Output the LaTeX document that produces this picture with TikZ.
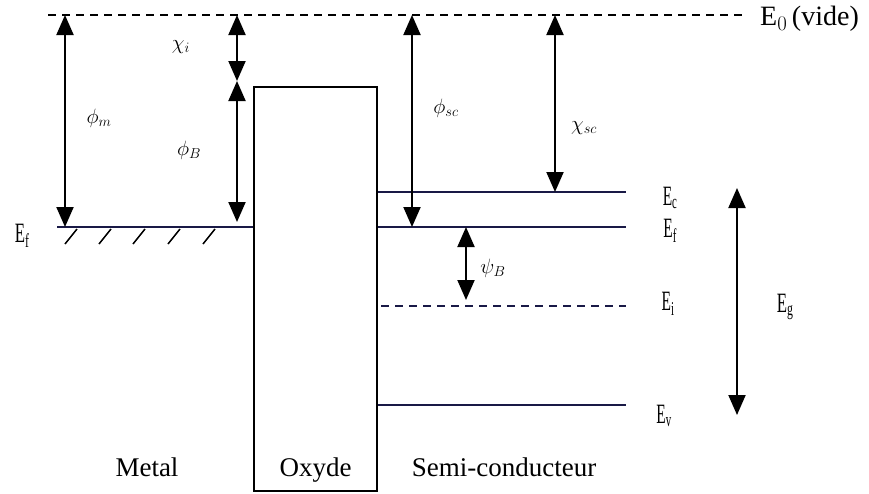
\documentclass[tikz,border=0pt]{standalone}
\usepackage{fontspec}
\setmainfont{Liberation Serif}
\usetikzlibrary{arrows.meta}
\definecolor{lvl}{RGB}{25,25,70}
\begin{document}
\begin{tikzpicture}[x=1pt,y=-1pt,
  lev/.style={line width=2.6pt, draw=lvl},
  dbl/.style={line width=2pt, {Triangle[width=17pt,length=20pt]}-{Triangle[width=17pt,length=20pt]}},
  vac/.style={line width=1.8pt, dash pattern=on 8pt off 6pt},
  lbl/.style={font=\fontsize{22}{24}\selectfont, inner sep=0pt},
  elbl/.style={font=\fontsize{28}{30}\selectfont, inner sep=0pt},
  big/.style={font=\fontsize{27}{29}\selectfont, inner sep=0pt},
  hatch/.style={line width=1.5pt}]
\useasboundingbox (0,0) rectangle (869,493);
% vacuum level
\coordinate (v0) at (48,15);
\coordinate (v1) at (742,15);
\draw[vac] (v0) -- (v1);
\node[elbl, anchor=west] (e0) at (760,19) {E$_0$\,(vide)};
% oxide
\node[draw, line width=2pt, minimum width=123pt, minimum height=404pt, inner sep=0pt] (ox) at (315.5,289) {};
% metal Fermi level
\coordinate (mf0) at (57,227);
\draw[lev] (mf0) -- (ox.west |- mf0);
\foreach \x in {72,106,140,175,210} \draw[hatch] (\x-7,244) -- (\x+5,229);
\node[elbl] (efm) at (22,236) {\scalebox{0.6}[1]{E$_\mathrm{f}$}};
% semiconductor levels
\coordinate (ec1) at (626,192);
\coordinate (ef1) at (626,227);
\coordinate (ei0) at (381,306);
\coordinate (ei1) at (626,306);
\coordinate (ev1) at (626,405);
\draw[lev] (ox.east |- ec1) -- (ec1);
\draw[lev] (ox.east |- ef1) -- (ef1);
\draw[line width=2.2pt, draw=lvl, dash pattern=on 8pt off 6pt] (ei0) -- (ei1);
\draw[lev] (ox.east |- ev1) -- (ev1);
\node[elbl] (ec) at (670,198) {\scalebox{0.55}[1]{E$_\mathrm{c}$}};
\node[elbl] (ef) at (670,231) {\scalebox{0.55}[1]{E$_\mathrm{f}$}};
\node[elbl] (ei) at (668,304) {\scalebox{0.55}[1]{E$_\mathrm{i}$}};
\node[elbl] (ev) at (664,416) {\scalebox{0.55}[1]{E$_\mathrm{v}$}};
% arrows
\coordinate (pm0) at (65,15);   \coordinate (pm1) at (65,227);
\draw[dbl] (pm0) -- (pm1);
\node[lbl] (phim) at (99,118) {$\phi_m$};
\coordinate (ci0) at (237,15);  \coordinate (ci1) at (237,81);  \coordinate (pb1) at (237,222);
\draw[dbl] (ci0) -- (ci1);
\draw[dbl] (ci1) -- (pb1);
\node[lbl] (chii) at (181,47) {$\chi_i$};
\node[lbl] (phib) at (189,150) {$\phi_B$};
\coordinate (ps0) at (412,15);  \coordinate (ps1) at (412,227);
\draw[dbl] (ps0) -- (ps1);
\node[lbl] (phisc) at (446,108) {$\phi_{sc}$};
\coordinate (cs0) at (555,15);  \coordinate (cs1) at (555,192);
\draw[dbl] (cs0) -- (cs1);
\node[lbl] (chisc) at (584,128) {$\chi_{sc}$};
\coordinate (pB0) at (466,227); \coordinate (pB1) at (466,300);
\draw[dbl] (pB0) -- (pB1);
\node[lbl] (psib) at (493,268) {$\psi_B$};
\coordinate (g0) at (737,188);  \coordinate (g1) at (737,415);
\draw[dbl] (g0) -- (g1);
\node[elbl] (eg) at (785,307) {\scalebox{0.6}[1]{E$_\mathrm{g}$}};
% region labels
\node[big, anchor=base] (metal) at (147,476) {Metal};
\node[big, anchor=base] (oxyde) at (ox.center |- metal.base) {Oxyde};
\node[big, anchor=base] (sc) at (504,476) {Semi-conducteur};
\end{tikzpicture}
\end{document}
